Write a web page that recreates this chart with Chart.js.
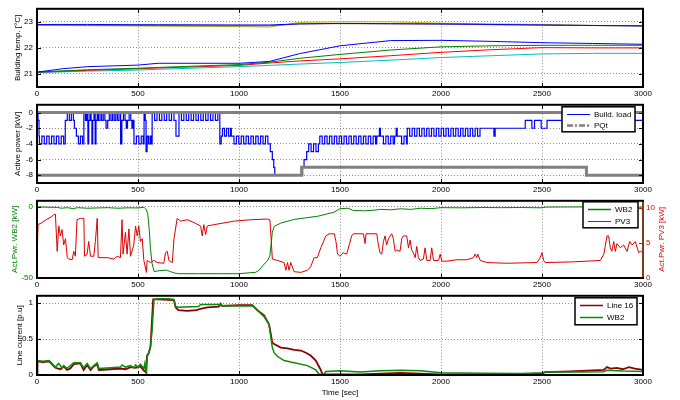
<!DOCTYPE html>
<html><head><meta charset="utf-8">
<script src="https://cdn.jsdelivr.net/npm/chart.js@4.4.1/dist/chart.umd.min.js"></script>
<style>
html,body{margin:0;padding:0;background:#fff}
body{width:680px;height:400px;position:relative;overflow:hidden}
canvas{position:absolute;left:0}
</style></head><body>
<canvas id="c1" width="680" height="100" style="top:0px"></canvas>
<canvas id="c2" width="680" height="100" style="top:96px"></canvas>
<canvas id="c3" width="680" height="100" style="top:192px"></canvas>
<canvas id="c4" width="680" height="113" style="top:287px"></canvas>
<script>
// ---------- DATA ----------
const xTicks = [0, 500, 1000, 1500, 2000, 2500, 3000];

// Panel 1: building temperatures
const tempT      = [0, 125, 250, 500, 600, 1000, 1150, 1300, 1500, 1750, 2000, 2250, 2500, 2750, 3000];
const tempYellow = [22.87, 22.86, 22.85, 22.84, 22.83, 22.82, 22.80, 22.98, 23.00, 23.00, 22.95, 22.92, 22.90, 22.86, 22.83];
const tempPurple = [22.88, 22.88, 22.87, 22.86, 22.86, 22.85, 22.85, 22.92, 22.93, 22.92, 22.91, 22.89, 22.87, 22.86, 22.86];
const tempBlueHi = [22.90, 22.90, 22.90, 22.89, 22.89, 22.88, 22.88, 22.92, 22.94, 22.93, 22.92, 22.90, 22.88, 22.86, 22.84];
const tempBlueLo = [21.07, 21.20, 21.28, 21.34, 21.41, 21.41, 21.48, 21.78, 22.08, 22.28, 22.29, 22.25, 22.20, 22.17, 22.14];
const tempGreen  = [21.07, 21.12, 21.16, 21.22, 21.25, 21.36, 21.45, 21.60, 21.75, 21.92, 22.04, 22.08, 22.10, 22.10, 22.10];
const tempRed    = [21.07, 21.10, 21.14, 21.20, 21.23, 21.33, 21.42, 21.50, 21.58, 21.70, 21.83, 21.93, 22.01, 22.00, 22.00];
const tempCyan   = [21.05, 21.08, 21.11, 21.15, 21.18, 21.28, 21.33, 21.38, 21.44, 21.53, 21.63, 21.70, 21.77, 21.79, 21.79];
const tempTicks  = [21, 22, 23];

// Panel 2: active power (time, value), held until next point
const buildLoad = [[0,0],[5,-1],[10,-3],[12,-4],[24,-3],[36,-4],[48,-3],[60,-4],[72,-3],[84,-4],[96,-3],[108,-4],[120,-3],[132,-4],
 [140,-1],[150,0],[160,-1],[170,0],[180,-1],[185,-2],[195,-3],[205,-4],[215,-3],[225,-4],
 [232,0],[240,-1],[246,0],[252,-4],[256,-1],[262,0],[268,-1],[272,-4],[276,-1],[282,0],[288,-4],[292,-1],[298,0],[304,-1],[312,0],[320,-1],[328,0],[336,-1],[342,-2],[350,-1],[358,0],[366,-1],[374,0],[382,-1],[390,0],[398,-1],[406,0],[414,-4],[420,-1],[428,0],[436,-1],[442,-2],[448,-1],[456,0],[464,-1],[470,-2],[476,-1],
 [480,-4],[492,-3],[504,-4],[516,-3],[526,-4],[530,0],[536,-1],[540,-5],[545,-3],[552,-4],[560,-3],[566,-4],
 [570,0],[582,-1],[594,0],[606,-1],[618,0],[630,-1],[642,0],[654,-1],[666,0],[678,-1],[688,-3],
 [703,0],[715,-1],[727,0],[739,-1],[751,0],[763,-1],[775,0],[787,-1],[799,0],[811,-1],[823,0],[835,-1],[847,0],[859,-1],[871,0],[883,-1],[895,0],
 [905,-4],[912,-3],[918,-2],[928,-3],[938,-2],[948,-3],[958,-2],[962,-3],
 [975,-4],[987,-3],[999,-4],[1011,-3],[1023,-4],[1035,-3],[1047,-4],[1059,-3],[1071,-4],[1083,-3],[1095,-4],[1107,-3],[1119,-4],[1131,-3],[1143,-4],
 [1155,-5],[1165,-6],[1172,-7],[1177,-8],[1315,-7],[1322,-6],[1335,-5],
 [1345,-4],[1357,-5],[1369,-4],[1381,-5],[1393,-4],
 [1400,-3],[1412,-4],[1424,-3],[1436,-4],[1448,-3],[1460,-4],[1472,-3],[1484,-4],[1496,-3],[1508,-4],[1520,-3],[1532,-4],[1544,-3],[1556,-4],[1568,-3],[1580,-4],[1592,-3],[1604,-4],[1616,-3],[1628,-4],[1640,-3],[1652,-4],[1664,-3],[1676,-4],[1682,-3],
 [1695,-2],[1700,-3],[1715,-4],[1727,-3],[1739,-4],[1751,-3],[1763,-4],[1770,-3],[1778,-2],[1783,-3],[1805,-4],[1817,-3],[1829,-4],
 [1833,-2],[1845,-3],[1857,-2],[1869,-3],[1881,-2],[1893,-3],[1905,-2],[1917,-3],[1929,-2],[1941,-3],[1953,-2],[1965,-3],[1977,-2],[1989,-3],[2001,-2],[2013,-3],[2025,-2],[2037,-3],[2049,-2],[2061,-3],[2073,-2],[2085,-3],[2097,-2],[2109,-3],[2121,-2],[2133,-3],[2145,-2],[2157,-3],[2169,-2],[2181,-3],[2193,-2],
 [2262,-3],[2268,-2],[2417,-1],[2450,-2],[2463,-1],[2496,-2],[2525,-1],[3000,-1]];
const pqtUpper = [[0,0],[3000,0]];
const pqtLower = [[0,-8],[1310,-8],[1310,-7],[2720,-7],[2720,-8],[3000,-8]];
const powerTicks = [-8, -6, -4, -2, 0];

// Panel 3: WB2 active power (left, kW) and PV3 active power (right, kW)
const wb2Power = [[0,-50],[1,-0.3],[10,-0.3],[50,-0.5],[100,-0.6],[120,-1.2],[150,-0.8],[180,-1.5],[200,-0.8],[250,-1.2],[300,-1.0],[350,-0.8],[400,-1.2],[450,-0.9],[500,-1.0],[530,-0.5],
 [540,-2],[548,-5],[555,-15],[562,-30],[570,-40],[580,-45.5],[600,-45],[640,-44.5],[660,-45.5],[680,-46.5],[700,-47],[800,-47],[900,-47],[1000,-47],[1083,-46],[1100,-44.5],[1120,-41],[1140,-38],[1153,-34.6],[1160,-25],[1165,-18],[1175,-13.8],[1207,-11.6],[1273,-9],[1390,-6.8],[1470,-4],
 [1500,-1.5],[1540,-1.2],[1566,-2.8],[1620,-3.0],[1665,-2.6],[1700,-2],[1750,-2.3],[1800,-1.6],[1850,-2],[1900,-1.2],[1950,-1.5],[2000,-0.8],[2100,-0.9],[2200,-0.7],[2300,-0.8],[2400,-0.7],[2500,-0.9],[2520,-0.4],[2700,-0.3],[2900,-0.3],[3000,-0.5]];
const pv3Power = [[0,1.6],[5,7.6],[25,7.9],[45,8.3],[70,8.7],[83,9],[91,9.1],[100,3.8],[108,7.4],[116,6.0],[124,6.9],[132,4.7],[141,5.6],[150,2.9],[157,2.7],[174,2.6],[182,3.8],[190,3.1],[198,8.3],[215,8.5],[232,8.5],[235,3.1],[248,3.4],[256,5.2],[265,3.1],[281,3.1],[289,5.2],[298,8.5],[303,2.9],[347,2.9],[380,2.7],[397,3.1],[413,2.9],[421,8.3],[426,3.4],[438,6.5],[446,3.4],[455,7.0],[463,3.1],[479,4.7],[488,7.4],[496,6.0],[504,7.4],[512,5.2],[521,5.6],[529,2.5],[542,0.8],[545,2.5],[562,2.2],[579,2.5],[595,2.2],[628,2.1],[636,3.6],[645,3.8],[653,2.5],[670,2.2],[678,5.6],[694,8.5],[711,8.1],[744,8.3],[777,7.9],[810,7.4],[818,6.0],[826,7.6],[835,6.2],[843,7.4],[876,7.6],[975,8.1],[1058,8.3],[1140,8.4],[1153,8.3],[1160,5.2],[1165,2.7],[1190,2.5],[1223,2.2],[1232,1.1],[1240,2.2],[1248,1.1],[1256,2.2],[1273,0.9],[1306,0.8],[1339,1.1],[1355,1.6],[1372,2.9],[1388,2.9],[1405,4.3],[1430,6.0],[1446,6.3],[1472,6.3],[1480,5.2],[1488,3.4],[1500,3.1],[1516,3.6],[1533,3.4],[1558,6.0],[1566,6.3],[1616,6.3],[1624,4.9],[1629,6.3],[1682,6.3],[1690,4.7],[1698,3.6],[1707,3.4],[1715,5.2],[1723,6.0],[1731,4.7],[1740,5.6],[1756,6.3],[1764,5.6],[1773,3.8],[1781,4.0],[1797,3.8],[1806,5.6],[1814,6.0],[1830,6.0],[1839,4.3],[1847,5.4],[1855,4.0],[1863,3.6],[1872,2.9],[1880,4.5],[1888,2.9],[1896,2.5],[1913,2.7],[1921,4.3],[1930,2.5],[1946,2.5],[1954,4.3],[1963,2.5],[1988,2.5],[1996,3.4],[2004,2.4],[2029,2.4],[2078,2.6],[2128,2.6],[2161,2.9],[2169,3.4],[2177,2.9],[2182,3.4],[2194,2.5],[2227,2.2],[2326,2.1],[2475,2.2],[2491,2.9],[2500,3.6],[2508,2.5],[2516,2.2],[2656,2.3],[2789,2.5],[2806,3.4],[2822,6.0],[2830,6.0],[2838,4.3],[2846,3.8],[2855,5.2],[2863,3.8],[2871,4.9],[2888,4.3],[2904,4.7],[2921,3.8],[2934,5.2],[2946,4.7],[2962,5.2],[2979,3.6],[2987,3.8],[3000,3.6]];
const wb2PowerTicks = [-50, 0];
const pv3PowerTicks = [0, 5, 10];

// Panel 4: line currents [p.u]
const line16Cur = [[0,0],[2,0.19],[30,0.18],[60,0.19],[91,0.10],[116,0.08],[132,0.12],[149,0.07],[165,0.09],[182,0.15],[215,0.16],[231,0.07],[248,0.14],[265,0.07],[281,0.12],[298,0.15],[306,0.07],[364,0.08],[413,0.09],[438,0.08],[463,0.11],[488,0.10],[512,0.12],[529,0.06],[538,0.04],[545,0.27],[554,0.31],[562,0.40],[575,1.05],[600,1.05],[678,1.04],[686,0.94],[700,0.90],[744,0.89],[790,0.90],[810,0.92],[843,0.94],[900,0.95],[909,0.99],[915,0.96],[1000,0.97],[1066,0.97],[1091,0.90],[1124,0.83],[1149,0.70],[1165,0.45],[1174,0.43],[1207,0.38],[1240,0.37],[1273,0.35],[1306,0.34],[1331,0.31],[1355,0.27],[1380,0.20],[1405,0.07],[1413,0.01],[1600,0.01],[1700,0.02],[1800,0.03],[1900,0.02],[2000,0.01],[2400,0.01],[2500,0.02],[2516,0.04],[2640,0.05],[2805,0.07],[2822,0.11],[2840,0.09],[2870,0.10],[2900,0.08],[2930,0.11],[2960,0.09],[3000,0.07]];
const wb2Cur = [[0,0],[2,0.20],[30,0.19],[60,0.20],[91,0.11],[107,0.16],[116,0.13],[124,0.09],[132,0.13],[149,0.09],[165,0.13],[182,0.17],[215,0.17],[231,0.10],[248,0.16],[265,0.09],[281,0.13],[298,0.17],[306,0.09],[364,0.10],[413,0.11],[421,0.14],[438,0.11],[463,0.13],[479,0.10],[488,0.14],[500,0.11],[512,0.15],[529,0.09],[534,0.16],[542,0],[545,0.25],[554,0.31],[562,0.40],[570,0.63],[579,1.05],[600,1.06],[650,1.06],[678,1.05],[686,0.95],[700,0.94],[800,0.95],[810,0.98],[910,0.98],[920,0.96],[1060,0.96],[1075,0.95],[1091,0.90],[1124,0.81],[1149,0.70],[1157,0.54],[1165,0.38],[1174,0.31],[1190,0.26],[1223,0.20],[1273,0.17],[1339,0.13],[1380,0.07],[1397,0.01],[1420,0.01],[1430,0.05],[1500,0.06],[1600,0.04],[1700,0.06],[1800,0.065],[1900,0.06],[2000,0.03],[2200,0.025],[2400,0.02],[2500,0.03],[2520,0.04],[2700,0.04],[2805,0.045],[2822,0.065],[2900,0.055],[3000,0.05]];
const currentTicks = [0, 0.5, 1];

// ---------- RENDERING ----------
Chart.defaults.font.family = '"Liberation Sans", Arial, Helvetica, sans-serif';
Chart.defaults.font.size = 8;
Chart.defaults.color = '#000';
const GRID = '#8c8c8c';
const GREEN = '#008000', RED = '#dd0000', DARKRED = '#8b0000', BLUE = '#0000ff', GRAY = '#808080';
const FONT = '8px "Liberation Sans", Arial, sans-serif';

const pts = a => a.map(p => ({x: p[0], y: p[1]}));
const ser = (t, v) => t.map((x, i) => ({x, y: v[i]}));

const frame = {
  id: 'frame',
  afterDatasetsDraw(chart, args, o) {
    const {ctx, chartArea: a, scales} = chart;
    const L = 4;
    ctx.save();
    ctx.setLineDash([]);
    ctx.lineWidth = 1;
    ctx.strokeStyle = '#000';
    ctx.beginPath();
    const sx = scales.x;
    sx.ticks.forEach(t => {
      const p = Math.round(sx.getPixelForValue(t.value)) + 0.5;
      ctx.moveTo(p, a.bottom); ctx.lineTo(p, a.bottom - L);
      ctx.moveTo(p, a.top); ctx.lineTo(p, a.top + L);
    });
    const sy = scales.y;
    sy.ticks.forEach(t => {
      const p = Math.round(sy.getPixelForValue(t.value)) + 0.5;
      ctx.moveTo(a.left, p); ctx.lineTo(a.left + L, p);
      if (!scales.y2) { ctx.moveTo(a.right, p); ctx.lineTo(a.right - L, p); }
    });
    ctx.stroke();
    if (scales.y2) {
      ctx.strokeStyle = o.y2Color || '#000';
      ctx.beginPath();
      scales.y2.ticks.forEach(t => {
        const p = Math.round(scales.y2.getPixelForValue(t.value)) + 0.5;
        ctx.moveTo(a.right, p); ctx.lineTo(a.right - L, p);
      });
      ctx.stroke();
    }
    ctx.lineWidth = 2;
    ctx.strokeStyle = '#000';
    ctx.strokeRect(a.left, a.top, a.right - a.left, a.bottom - a.top);
    if (o.rightBorder) {
      ctx.strokeStyle = o.rightBorder;
      ctx.beginPath();
      ctx.moveTo(a.right, a.top + 1); ctx.lineTo(a.right, a.bottom - 1);
      ctx.stroke();
    }

    const lg = o.legend;
    if (lg) {
      const bx = a.right - lg.right - lg.w, by = a.top + lg.top;
      ctx.fillStyle = '#fff';
      ctx.fillRect(bx, by, lg.w, lg.h);
      ctx.lineWidth = 1.5;
      ctx.strokeStyle = '#000';
      ctx.strokeRect(bx, by, lg.w, lg.h);
      ctx.font = FONT;
      ctx.textBaseline = 'middle';
      ctx.textAlign = 'left';
      lg.items.forEach((it, i) => {
        const y = Math.round(by + lg.row0 + i * lg.dy) + 0.5;
        ctx.strokeStyle = it.color;
        ctx.lineWidth = it.width;
        ctx.setLineDash(it.dash || []);
        ctx.beginPath();
        ctx.moveTo(bx + 5, y); ctx.lineTo(bx + 28, y);
        ctx.stroke();
        ctx.setLineDash([]);
        ctx.fillStyle = '#000';
        ctx.fillText(it.label, bx + 32, y);
      });
    }
    const rt = o.rightTitle;
    if (rt) {
      ctx.translate(rt.x, (a.top + a.bottom) / 2);
      ctx.rotate(-Math.PI / 2);
      ctx.font = FONT;
      ctx.fillStyle = rt.color;
      ctx.textAlign = 'center';
      ctx.textBaseline = 'middle';
      ctx.fillText(rt.text, 0, 0);
    }
    ctx.restore();
  }
};

function xScale(h, title) {
  return {
    type: 'linear', min: 0, max: 3000,
    afterBuildTicks: s => { s.ticks = xTicks.map(v => ({value: v})); },
    afterFit: s => { s.height = h; },
    ticks: {padding: 2, maxRotation: 0, autoSkip: false, callback: v => String(v)},
    grid: {color: GRID, drawTicks: false},
    border: {display: false, dash: [1, 2]},
    title: title ? {display: true, text: title, padding: {top: 0, bottom: 2}} : {display: false}
  };
}
function yScale(min, max, ticks, title, titlePad, color) {
  return {
    type: 'linear', position: 'left', min, max,
    afterBuildTicks: s => { s.ticks = ticks.map(v => ({value: v})); },
    afterFit: s => { s.width = 37; },
    ticks: {padding: 4, color: color || '#000', callback: v => String(v)},
    grid: {color: GRID, drawTicks: false},
    border: {display: false, dash: [1, 2]},
    title: {display: true, text: title, color: color || '#000', padding: {top: titlePad, bottom: 0}}
  };
}
function make(id, padTop, datasets, scales, frameOpts) {
  return new Chart(document.getElementById(id), {
    type: 'line',
    data: {datasets},
    options: {
      responsive: false, devicePixelRatio: 1, animation: false,
      layout: {padding: {top: padTop, left: 0, right: scales.y2 ? 0 : 37, bottom: 0}},
      elements: {point: {radius: 0}, line: {borderWidth: 1, tension: 0}},
      plugins: {legend: {display: false}, tooltip: {enabled: false}, frame: frameOpts || {}},
      scales
    },
    plugins: [frame]
  });
}
const ds = (data, color, extra) => Object.assign({data, borderColor: color, backgroundColor: color, fill: false, pointRadius: 0}, extra || {});

// Panel 1
make('c1', 5, [
  ds(ser(tempT, tempBlueHi), BLUE),
  ds(ser(tempT, tempPurple), 'rgba(110,60,140,0.85)'),
  ds(ser(tempT, tempYellow), '#b8b800'),
  ds(ser(tempT, tempBlueLo), BLUE),
  ds(ser(tempT, tempGreen), GREEN),
  ds(ser(tempT, tempRed), '#ff0000'),
  ds(ser(tempT, tempCyan), '#00bfbf')
], {
  x: xScale(13),
  y: yScale(20.5, 23.5, tempTicks, 'Building temp. [°C]', 13)
});

// Panel 2
make('c2', 5, [
  ds(pts(pqtUpper), GRAY, {borderWidth: 3}),
  ds(pts(pqtLower), GRAY, {borderWidth: 3}),
  ds(pts(buildLoad), BLUE, {stepped: 'before', borderWidth: 1.2})
], {
  x: xScale(13),
  y: yScale(-9, 1, powerTicks, 'Active power [kW]', 13)
}, {legend: {right: 8, top: 2, w: 73, h: 25, row0: 7, dy: 11, items: [
  {label: 'Build. load', color: BLUE, width: 1},
  {label: 'PQt', color: GRAY, width: 2.5, dash: [6, 2, 2, 2]}
]}});

// Panel 3
make('c3', 5, [
  ds(pts(pv3Power), RED, {yAxisID: 'y2'}),
  ds(pts(wb2Power), GREEN, {yAxisID: 'y'})
], {
  x: xScale(14),
  y: yScale(-50, 4, wb2PowerTicks, 'Act.Pwr. WB2 [kW]', 10, GREEN),
  y2: {
    type: 'linear', position: 'right', min: 0, max: 11,
    afterBuildTicks: s => { s.ticks = pv3PowerTicks.map(v => ({value: v})); },
    afterFit: s => { s.width = 37; },
    ticks: {padding: 3, color: RED, callback: v => String(v)},
    grid: {display: false, drawTicks: false},
    border: {display: false}
  }
}, {y2Color: RED, rightBorder: '#7a3f12', rightTitle: {text: 'Act.Pwr. PV3 [kW]', x: 662, color: RED},
   legend: {right: 5, top: 1, w: 55, h: 26, row0: 7.5, dy: 11.5, items: [
    {label: 'WB2', color: GREEN, width: 1.5},
    {label: 'PV3', color: RED, width: 1}
  ]}});

// Panel 4
make('c4', 5, [
  ds(pts(wb2Cur), '#0a8a0a', {borderWidth: 1.5}),
  ds(pts(line16Cur), DARKRED, {borderWidth: 1.8})
], {
  x: xScale(25, 'Time [sec]'),
  y: yScale(0, 1.1, currentTicks, 'Line current [p.u]', 15)
}, {legend: {right: 6, top: 2, w: 62, h: 27, row0: 7.5, dy: 11.5, items: [
  {label: 'Line 16', color: DARKRED, width: 1.5},
  {label: 'WB2', color: '#0a8a0a', width: 1.5}
]}});
</script>
</body></html>
